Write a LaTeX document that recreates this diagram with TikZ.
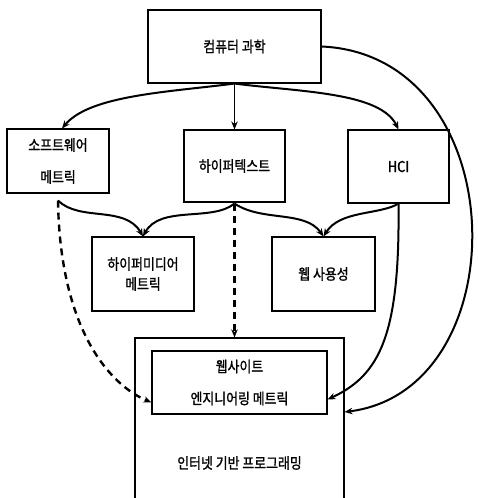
\documentclass[tikz,border=0pt]{standalone}
\usepackage{fontspec}
\newfontfamily\kr[FakeStretch=0.86,FakeBold=1.2]{Noto Sans CJK KR}
\usetikzlibrary{arrows.meta,positioning,calc}
\tikzset{
  >={Stealth[length=8pt,width=6.5pt]},
  box/.style={draw,line width=1.1pt,align=center,inner sep=2pt,font=\kr\fontsize{15}{20}\selectfont},
  arr/.style={->,line width=1.1pt},
  carr/.style={->,line width=2pt},
  darr/.style={->,line width=2.4pt,dash pattern=on 7pt off 5pt},
  lab/.style={font=\kr\fontsize{15}{20}\selectfont},
}
\begin{document}
\begin{tikzpicture}[x=1pt,y=-1pt]
\useasboundingbox (0,0) rectangle (477,498);
\clip (0,0) rectangle (477,498);
\node[box,minimum width=173pt,minimum height=73pt] (cs) at (234.5,46.5) {컴퓨터 과학};
\node[box,minimum width=102pt,minimum height=64pt] (sw) at (58,161) {소프트웨어\\[12pt]메트릭};
\node[box,minimum width=101pt,minimum height=72pt] (ht) at (234.5,166) {하이퍼텍스트};
\node[box,minimum width=101pt,minimum height=73pt] (hci) at (398.5,166.5) {HCI};
\node[box,minimum width=102pt,minimum height=74pt] (hm) at (143,274) {하이퍼미디어\\메트릭};
\node[box,minimum width=103pt,minimum height=74pt] (wu) at (323.5,274) {웹 사용성};
\node[box,minimum width=209pt,minimum height=170pt] (ip) at (239.5,423) {};
\node[lab] (iptext) at (239.5,463) {인터넷 기반 프로그래밍};
\node[box,minimum width=175pt,minimum height=63pt] (we) at (239.5,382.5) {웹사이트\\[12pt]엔지니어링 메트릭};
\coordinate (swb) at ([yshift=-7pt]sw.south);
\coordinate (htb) at ([yshift=-1pt]ht.south);
\coordinate (hcib) at (hci.south);
% from computer science
\draw[arr] (cs.south) -- (ht.north);
\draw[carr] (cs.south) .. controls (170,92) and (90,95) .. ([xshift=4pt]sw.north);
\draw[carr] (cs.south) .. controls (300,92) and (380,92) .. (hci.north);
\draw[carr] (cs.east) .. controls (515,55) and (520,390) .. ([yshift=11pt]ip.east);
% second row
\draw[carr] (swb) .. controls (80,222) and (125,205) .. (hm.north);
\draw[carr] (htb) .. controls (212,222) and (160,205) .. (hm.north);
\draw[carr] (htb) .. controls (262,222) and (305,210) .. (wu.north);
\draw[carr] (hcib) .. controls (380,215) and (340,210) .. (wu.north);
\draw[carr] (hcib) .. controls (400,335) and (380,375) .. ([yshift=-17pt]we.east);
\draw[darr] (swb) .. controls (60,330) and (110,385) .. ([yshift=-20pt]we.west);
\draw[darr] (htb) -- (htb |- ip.north);
\end{tikzpicture}
\end{document}
